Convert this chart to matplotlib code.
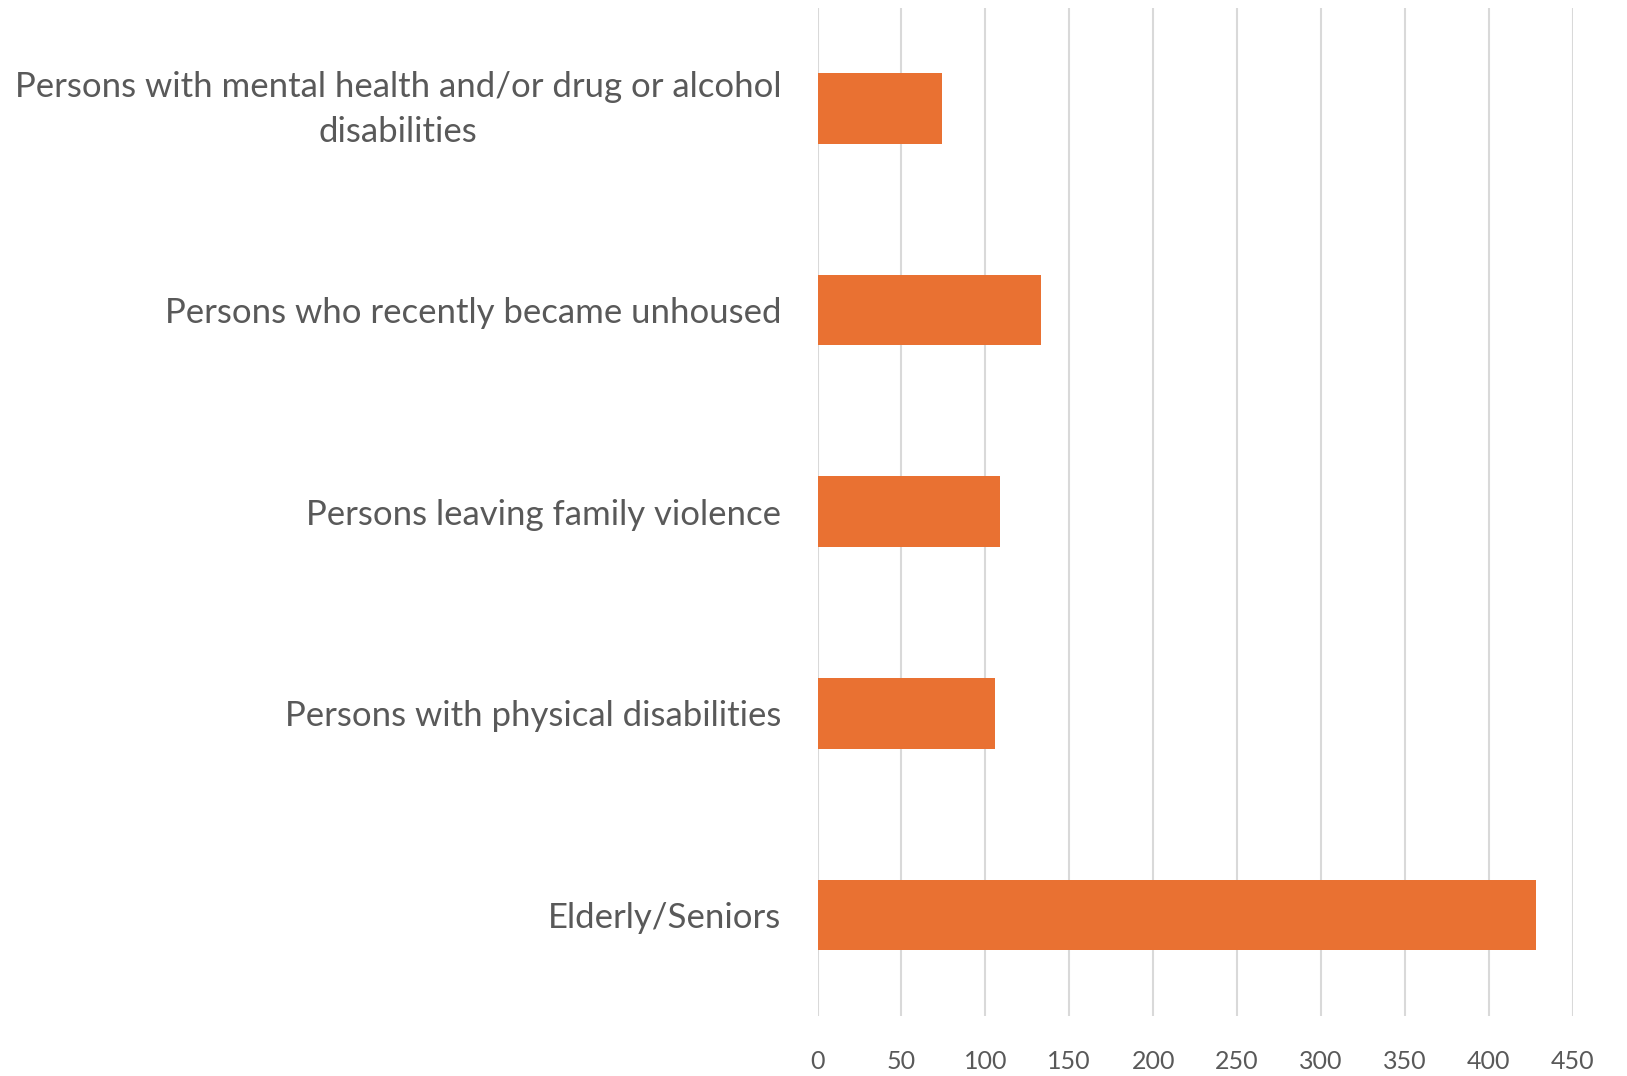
"""
Horizontal bar chart of priority groups
"""

import matplotlib as mpl
mpl.use("Agg")
import matplotlib.pyplot as plt
import matplotlib.transforms as mtransforms

categories = [
    "Elderly/Seniors",
    "Persons with physical disabilities",
    "Persons leaving family violence",
    "Persons who recently became unhoused",
    "Persons with mental health and/or drug or alcohol\ndisabilities",
]
values = [428, 106, 109, 133, 74]
xticks = [0, 50, 100, 150, 200, 250, 300, 350, 400, 450]

text_color = "#595959"
bar_color = "#E97132"

plt.rcParams["font.family"] = ["Lato", "DejaVu Sans"]

fig = plt.figure(figsize=(16.27, 10.76), dpi=100)
ax = fig.add_axes([0.5025, 0.0562, 0.9666 - 0.5025, 0.9926 - 0.0562])

ax.barh(range(len(categories)), values, height=0.35, color=bar_color, zorder=2)

ax.set_xlim(0, 450)
ax.set_ylim(-0.5, len(categories) - 0.5)
ax.set_xticks(xticks)
ax.set_xticklabels([str(t) for t in xticks], fontsize=18, color=text_color)

# single-line labels as tick labels, two-line label drawn by hand so it can sit a bit higher
ax.set_yticks(range(len(categories)))
ax.set_yticklabels(["" if "\n" in c else c for c in categories], fontsize=25, color=text_color)
for i, c in enumerate(categories):
    if "\n" in c:
        off = mtransforms.ScaledTranslation(-26/72, 6/72, fig.dpi_scale_trans)
        ax.text(0, i, c, transform=ax.get_yaxis_transform() + off, ha="right", va="center_baseline",
                multialignment="center", fontsize=25, color=text_color, linespacing=1.5)

ax.grid(axis="x", color="#d9d9d9", linewidth=1.5, zorder=0)
for s in ax.spines.values():
    s.set_visible(False)
ax.tick_params(axis="both", length=0)
ax.tick_params(axis="x", pad=25)
ax.tick_params(axis="y", pad=26)

fig.savefig("out.png", dpi=100)
